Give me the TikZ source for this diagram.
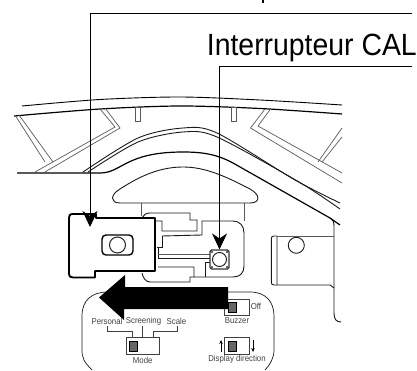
\documentclass[tikz,border=0pt]{standalone}
\usepackage{fontspec}
\setmainfont{Liberation Sans}
\usetikzlibrary{arrows.meta}

\tikzset{
  leader/.style={line width=0.9pt, -{Stealth[length=16pt,width=15pt,inset=5pt]}},
  body/.style={line width=0.9pt, black!90},
  heavy/.style={line width=1.2pt, black},
  rib/.style={line width=0.7pt, black!65},
  cardline/.style={line width=1.9pt, black, line join=round},
  smalltext/.style={font=\fontsize{8.6}{10}\selectfont, text=black!75, inner sep=0pt, xscale=0.91, transform shape},
  slider/.style={draw=black!75, line width=0.9pt, fill=white, inner sep=0pt},
  knob/.style={draw=black, line width=0.5pt, fill=black!60, minimum width=8pt, minimum height=10pt, inner sep=0pt},
}

\begin{document}
\begin{tikzpicture}[x=1pt,y=-1pt]
  \useasboundingbox (0,0) rectangle (417,371);

  % labels
  \draw[line width=2pt] (263,0) -- (263,3);
  \node[anchor=base east, inner sep=0pt, font=\fontsize{30.7}{32}\selectfont, xscale=0.925, transform shape] (callabel) at (417,56) {Interrupteur CAL};

  \coordinate (cardleadstart) at (412,13);
  \coordinate (calleadstart)  at (412,66.5);
  \coordinate (cardmark)      at (90,227);

  % upper case
  \draw[heavy,line width=0.9pt] plot[smooth] coordinates {(22,106) (100,99.5) (180,97) (260,100) (342,105)};
  \draw[heavy] plot[smooth] coordinates {(14,116) (100,109) (180,106) (260,108.5) (342,114)};
  \draw[rib] (135,107) rectangle (140,121);
  \draw[rib] (231,107) rectangle (236,121);

  % left wedge
  \draw[rib] (15,115) -- (45,162);
  \draw[rib] (19,115) -- (53,162);
  \draw[rib] (100,109) -- (115,127) -- (35,172);
  \draw[rib] (105,108) -- (120,128) -- (45,172);

  % right wedge
  \draw[rib] (265,109) -- (250.5,128) -- (342,183);
  \draw[rib] (270.5,109) -- (258,126) -- (342,173);
  \draw[rib] (318,162) -- (342,128);
  \draw[rib] (322,162) -- (342,137);

  % arches
  \draw[body] plot[smooth] coordinates {(83,172) (138,138) (183,128) (217,133) (295,180) (340,203)};
  \draw[body] plot[smooth] coordinates {(88,172) (138,142) (183,132) (217,137) (299,182) (340,209)};
  \draw[heavy] (17,173) -- (100,173) .. controls (122,173) and (125,152) .. (183,152)
    .. controls (205,152) and (218,155) .. (233,163) -- (330,218);
  \draw[body] (120,203) .. controls (110,203) and (110,195) .. (120,189)
    .. controls (140,176) and (160,167) .. (183,167)
    .. controls (205,167) and (225,176) .. (250,189)
    .. controls (261,195) and (260,203) .. (250,203) -- cycle;
  \draw[rib] (141,203) -- (141,216);
  \draw[rib] (244,203) -- (244,221);

  % switch housing
  \draw[body] (142,218) .. controls (143,215) and (146,213) .. (150,213) -- (190,213) -- (190,220)
    -- (197,220) -- (197,231) -- (162,231) -- (162,221) -- (156,221);
  \draw[body] (162,236) -- (202,235) -- (202,221) -- (233,221)
    .. controls (240,221) and (244,226) .. (244,233) -- (244,266)
    .. controls (244,273) and (240,277) .. (233,277) -- (194,277) -- (194,267) -- (158,267);
  \draw[body] (162,236) -- (162,247) -- (157,247);
  \draw[body] (194,277) -- (190,277) -- (190,282) -- (150,282)
    .. controls (146,282) and (143,278) .. (142,273);
  \draw[body] (158,248) -- (158,258) -- (210,258);
  \draw[rib] (158,254) -- (210,254);
  \draw[body] (210,262) -- (205,262) -- (205,277);

  % CAL switch
  \node[draw=black!80, line width=1.1pt, rounded corners=1.5pt, fill=white, minimum size=19pt, inner sep=0pt] (calswitch) at (219.5,259.5) {};
  \draw[body] (calswitch.center) circle (7pt);
  \foreach \px/\py in {-7.5/-7.5, 7.5/-7.5, -7.5/7.5, 7.5/7.5}
    \fill[black!80] (219.5+\px,259.5+\py) circle (1.2pt);

  % card
  \draw[cardline, fill=white] (69,218) .. controls (69,215) and (70,214) .. (72,214) -- (96,214) -- (96,218)
    -- (155,218) -- (155,271) -- (95,271) -- (95,277.5) -- (73,277.5)
    .. controls (70,277.5) and (69,276) .. (69,274) -- cycle;
  \node[draw, line width=1.4pt, rounded corners=4pt, minimum width=31pt, minimum height=20pt, inner sep=0pt] (cardwindow) at (117.5,245) {};
  \draw[line width=1pt, black!85] (cardwindow.center) circle (8pt);

  % leaders
  \draw[leader] (cardleadstart) -- (90,13) -- (cardmark);
  \draw[leader] (calleadstart) -| (calswitch.north);

  % selector panel
  \draw[body, line width=0.7pt] (92,370) .. controls (84,362) and (82,358) .. (82,350) -- (82,316)
    .. controls (82,300) and (92,292) .. (108,292) -- (250,292)
    .. controls (266,292) and (274,302) .. (274,316) -- (274,350)
    .. controls (274,358) and (270,365) .. (265,370);

  % mode selector
  \node[smalltext] (personal)  at (107,321) {Personal};
  \node[smalltext] (screening) at (143.5,321) {Screening};
  \node[smalltext] (scale)     at (176.5,321) {Scale};
  \node[slider, minimum width=33pt, minimum height=16.5pt] (modebox) at (143.3,346) {};
  \node[knob] (modeknob) at (133.5,346) {};
  \node[smalltext] (modetext) at (142.7,360.5) {Mode};
  \draw[rib, black!75] (107.7,326) -- (107.7,331) -- (132.7,331) -- (132.7,338);
  \draw[rib, black!75] (142.7,326) -- (142.7,338);
  \draw[rib, black!75] (177.7,326) -- (177.7,331) -- (153,331) -- (153,338);

  % buzzer
  \node[slider, minimum width=25.5pt, minimum height=16pt] (buzzerbox) at (237,307) {};
  \node[knob] (buzzerknob) at (232,307.3) {};
  \node[smalltext] (offtext) at (256,306) {Off};
  \node[smalltext] (buzzertext) at (237,321) {Buzzer};

  % display direction
  \node[slider, minimum width=25.5pt, minimum height=16.5pt] (dirbox) at (237,346) {};
  \node[knob] (dirknob) at (232,346) {};
  \node[smalltext] (dirtext) at (237,359.5) {Display direction};
  \draw[line width=0.7pt, -{Stealth[length=4pt,width=3.5pt]}] (221,352) -- (221,340);
  \draw[line width=0.7pt, -{Stealth[length=4pt,width=3.5pt]}] (253,340) -- (253,352);

  % big arrow
  \fill[black] (228,287) -- (125,287) -- (125,275) -- (99,297.5) -- (124,320) -- (124,309) -- (228,309) -- cycle;

  % right part
  \draw[body] (330,218) .. controls (333,220) and (334,222) .. (334,226) -- (334,313)
    .. controls (334,319) and (336,322) .. (341,322);
  \draw[heavy] (330,218) -- (340,225);
  \draw[body] (277,236) -- (274,236) .. controls (272,236) and (271.3,237) .. (271.3,239) -- (271.3,282)
    .. controls (271.3,284) and (272,285) .. (274,285) -- (277,285);
  \draw[body] (277,236) -- (277,285) -- (330,285) -- (334,288);
  \draw[rib] (277,236) -- (334,236);
  \draw[body] (296.3,245.3) circle (8pt);
\end{tikzpicture}
\end{document}
